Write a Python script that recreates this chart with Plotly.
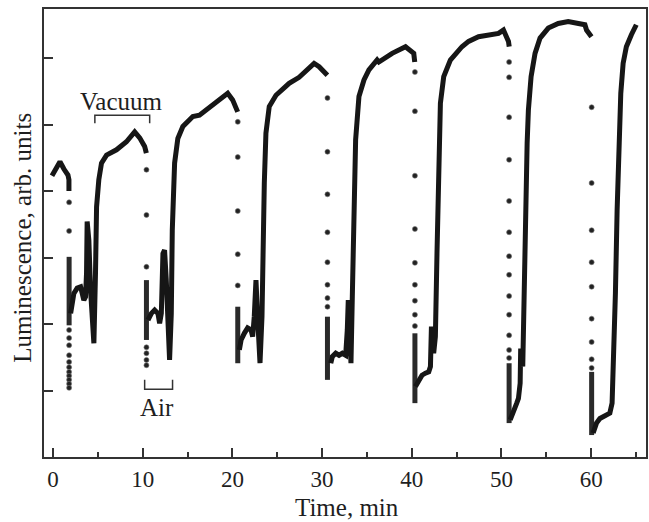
import plotly.graph_objects as go

# ---------------- data ----------------
# continuous (dense) parts of the record: time (min), luminescence (arb. units)
seg0_t = [-0.11, 0.33, 0.78, 1.22, 1.67, 1.78, 1.78]
seg0_y = [4.23, 4.33, 4.44, 4.33, 4.24, 4.17, 4.00]

seg1_t = [1.97, 2.14, 2.33, 2.70, 3.08, 3.26, 3.44, 3.63, 3.74, 3.81, 4.00, 4.19, 4.37, 4.56,
          4.74, 4.86, 5.11, 5.41, 5.97, 7.08, 8.19, 9.11, 9.67, 10.22, 10.41]
seg1_y = [2.16, 2.31, 2.46, 2.54, 2.56, 2.46, 2.36, 2.41, 2.76, 3.54, 3.26, 2.51, 2.01, 1.71,
          2.76, 3.76, 4.17, 4.42, 4.54, 4.62, 4.74, 4.89, 4.80, 4.67, 4.57]

seg2_t = [10.59, 10.97, 11.33, 11.70, 11.89, 12.08, 12.26, 12.44, 12.63, 12.81, 13.00, 13.19,
          13.30, 13.56, 13.92, 14.48, 15.59, 16.33, 17.44, 18.56, 19.48, 20.03, 20.41, 20.59]
seg2_y = [2.06, 2.16, 2.21, 2.16, 2.01, 2.16, 3.06, 3.11, 2.66, 1.91, 1.46, 2.16,
          3.41, 4.42, 4.79, 4.97, 5.12, 5.14, 5.25, 5.37, 5.47, 5.37, 5.27, 5.19]

seg3_t = [20.78, 20.97, 21.33, 21.70, 22.08, 22.26, 22.44, 22.63, 22.81, 23.08, 23.30, 23.37,
          23.56, 23.74, 24.11, 24.86, 25.78, 26.33, 27.44, 28.37, 29.11, 29.67, 30.22, 30.59]
seg3_y = [1.61, 1.76, 1.86, 1.94, 1.91, 1.81, 2.11, 2.66, 2.11, 1.41, 2.11, 2.86,
          4.12, 4.87, 5.27, 5.44, 5.55, 5.62, 5.71, 5.82, 5.92, 5.87, 5.79, 5.74]

seg4_t = [30.97, 31.14, 31.52, 31.89, 32.26, 32.63, 32.81, 32.92, 33.08, 33.22, 33.37, 33.56,
          33.74, 34.11, 34.67, 35.22, 36.14, 36.33, 37.81, 39.30, 39.86, 40.22, 40.33]
seg4_y = [1.41, 1.51, 1.56, 1.53, 1.56, 1.53, 1.91, 2.36, 1.91, 1.41, 2.41, 3.91,
          4.77, 5.42, 5.67, 5.82, 5.97, 5.94, 6.07, 6.17, 6.12, 6.07, 5.94]

seg5_t = [40.41, 40.78, 41.14, 41.52, 41.89, 42.08, 42.19, 42.44, 42.63, 42.81, 43.00, 43.19,
          43.56, 44.30, 45.59, 46.33, 47.44, 48.56, 49.67, 50.22, 50.59, 50.78, 50.86]
seg5_y = [1.06, 1.16, 1.23, 1.26, 1.28, 1.36, 1.96, 1.56, 1.81, 3.06, 4.57, 5.32,
          5.72, 5.97, 6.17, 6.25, 6.32, 6.35, 6.37, 6.42, 6.32, 6.25, 6.17]

seg6_t = [50.97, 51.33, 51.70, 51.89, 52.08, 52.14, 52.26, 52.37, 52.44, 52.56, 52.70, 52.86,
          53.00, 53.30, 53.74, 54.30, 55.22, 56.33, 57.44, 58.56, 59.30, 59.48, 59.86, 60.03]
seg6_y = [0.56, 0.71, 0.81, 0.88, 1.11, 1.63, 1.56, 1.36, 1.96, 2.71, 3.71, 4.72,
          5.22, 5.72, 6.07, 6.30, 6.45, 6.52, 6.55, 6.52, 6.50, 6.42, 6.35, 6.32]

seg7_t = [60.22, 60.59, 60.97, 61.52, 62.08, 62.33, 62.44, 62.56, 62.70, 62.89, 63.08, 63.30,
          63.56, 63.92, 64.48, 65.03]
seg7_y = [0.36, 0.51, 0.58, 0.61, 0.66, 0.81, 1.21, 1.71, 2.46, 3.71, 4.72, 5.47,
          5.92, 6.17, 6.35, 6.50]

# densely sampled vertical parts of each fast drop
column_t = [1.80, 10.42, 20.60, 30.60, 40.35, 50.85, 60.05]
column_top = [3.01, 2.66, 2.26, 2.11, 1.86, 1.41, 1.28]
column_bottom = [1.98, 1.76, 1.41, 1.16, 0.81, 0.51, 0.33]

# sparse points of the fast drops
dots_t = ([1.80] * 13 + [10.42] * 7 + [20.60] * 5 + [30.60] * 8 + [40.35] * 9
          + [50.85] * 13 + [60.05] * 9)
dots_y = ([3.83, 3.40, 1.91, 1.79, 1.68, 1.53, 1.43, 1.35, 1.28, 1.22, 1.16, 1.10, 1.04]
          + [4.32, 3.64, 2.86, 1.65, 1.56, 1.46, 1.38]
          + [5.04, 4.51, 3.70, 3.05, 2.58]
          + [5.40, 4.59, 3.95, 3.38, 2.93, 2.59, 2.39, 2.26]
          + [5.79, 5.20, 4.23, 3.43, 2.92, 2.59, 2.35, 2.14, 1.97]
          + [5.94, 5.71, 5.11, 4.47, 3.85, 3.38, 3.02, 2.74, 2.42, 2.14, 1.83, 1.61, 1.49]
          + [5.26, 4.12, 3.41, 2.93, 2.56, 2.08, 1.73, 1.47, 1.34])

x_ticks = [0, 10, 20, 30, 40, 50, 60]
x_minor = [5, 15, 25, 35, 45, 55, 65]
y_ticks = [1, 2, 3, 4, 5, 6]

# ---------------- figure ----------------
FONT = "Liberation Serif, Times New Roman, serif"
INK = "#161616"
TXT = "#1e1e1e"

segments = [(seg0_t, seg0_y), (seg1_t, seg1_y), (seg2_t, seg2_y), (seg3_t, seg3_y),
            (seg4_t, seg4_y), (seg5_t, seg5_y), (seg6_t, seg6_y), (seg7_t, seg7_y)]

fig = go.Figure()

# dense drop columns
col_x, col_y = [], []
for t, a, b in zip(column_t, column_top, column_bottom):
    col_x += [t, t, None]
    col_y += [a, b, None]
fig.add_trace(go.Scatter(x=col_x, y=col_y, mode="lines",
                         line=dict(color="#2a2a2a", width=5), hoverinfo="skip",
                         showlegend=False))

# continuous segments
for st, sy in segments:
    fig.add_trace(go.Scatter(x=st, y=sy, mode="lines",
                             line=dict(color=INK, width=5), showlegend=False))

# sparse points
fig.add_trace(go.Scatter(x=dots_t, y=dots_y, mode="markers",
                         marker=dict(symbol="circle", size=5, color="#222",
                                     line=dict(color="#777", width=0.6)),
                         showlegend=False))

line_col = "#333"
# Vacuum bracket
fig.add_shape(type="path", xref="x", yref="y",
              path="M 4.67 5.02 L 4.67 5.14 L 10.78 5.14 L 10.78 5.02",
              line=dict(color=line_col, width=1.5))
# Air bracket
fig.add_shape(type="path", xref="x", yref="y",
              path="M 10.22 1.16 L 10.22 1.02 L 13.33 1.02 L 13.33 1.16",
              line=dict(color=line_col, width=1.5))

fig.add_annotation(x=7.56, y=5.35, xref="x", yref="y", text="Vacuum", showarrow=False,
                   xanchor="center", yanchor="middle",
                   font=dict(family=FONT, size=25, color=TXT))
fig.add_annotation(x=11.56, y=0.75, xref="x", yref="y", text="Air", showarrow=False,
                   xanchor="center", yanchor="middle",
                   font=dict(family=FONT, size=25, color=TXT))

# axis titles
fig.add_annotation(x=0.503, y=-0.112, xref="paper", yref="paper", text="Time, min",
                   xanchor="center", yanchor="middle",
                   showarrow=False, font=dict(family=FONT, size=25, color=TXT))
fig.add_annotation(x=-0.036, y=0.49, xref="paper", yref="paper",
                   text="Luminescence, arb. units", textangle=-90,
                   xanchor="center", yanchor="middle",
                   showarrow=False, font=dict(family=FONT, size=25, color=TXT))

fig.update_layout(
    width=649, height=522,
    margin=dict(l=44, r=1, t=9, b=65),
    paper_bgcolor="white", plot_bgcolor="white",
    showlegend=False,
    xaxis=dict(range=[-1.0, 66.11], tickvals=x_ticks, ticks="inside", ticklen=9,
               tickwidth=1.5, tickcolor=line_col, showline=True, linewidth=2,
               linecolor=line_col, mirror=True, showgrid=False, zeroline=False,
               tickfont=dict(family=FONT, size=23, color=TXT),
               minor=dict(tickvals=x_minor, ticks="inside", ticklen=5, tickwidth=1.5,
                          tickcolor=line_col, showgrid=False)),
    yaxis=dict(range=[0, 6.737], tickvals=y_ticks, ticks="inside", ticklen=9,
               tickwidth=1.5, tickcolor=line_col, showline=True, linewidth=2,
               linecolor=line_col, mirror=True, showgrid=False, zeroline=False,
               showticklabels=False),
)

fig.write_html("out.html")
